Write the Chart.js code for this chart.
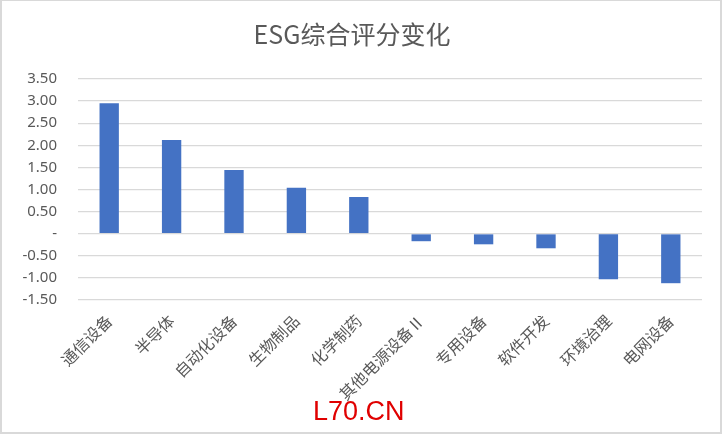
<!DOCTYPE html>
<html lang="zh">
<head>
    <meta charset="UTF-8">
    <title>ESG综合评分变化</title>
    <style>
        html, body { margin: 0; padding: 0; background: #fff; }
        .box {
            position: relative;
            width: 718px;
            height: 431px;
            border: 2px solid #d9d9d9;
            border-top-width: 1px;
        }
        .mark {
            position: absolute;
            left: 311px;
            top: 395px;
            font-family: "Liberation Sans", Arial, sans-serif;
            font-size: 27px;
            color: #e00000;
        }
    </style>
</head>
<body>

    <div class="box">
        <canvas id="myChart" width="718" height="431"></canvas>
        <div class="mark">L70.CN</div>
    </div>

    <script src="https://cdn.jsdelivr.net/npm/chart.js@4.4.1/dist/chart.umd.min.js"></script>
    <script>
        // industries, in the order shown
        var categories = ['通信设备', '半导体', '自动化设备', '生物制品', '化学制药',
            '其他电源设备Ⅱ', '专用设备', '软件开发', '环境治理', '电网设备'];
        // change of the ESG score
        var scoreChange = [2.95, 2.12, 1.44, 1.04, 0.83, -0.17, -0.24, -0.33, -1.03, -1.12];
        var yTicks = [-1.5, -1, -0.5, 0, 0.5, 1, 1.5, 2, 2.5, 3, 3.5];

        var grey = '#595959';
        var cjk = '"Noto Sans CJK SC", "Noto Sans", sans-serif';

        function createChart() {
            var ctx = document.getElementById('myChart').getContext('2d');
            new Chart(ctx, {
                type: 'bar',
                data: {
                    labels: categories,
                    datasets: [{
                        data: scoreChange,
                        backgroundColor: '#4472c4',
                        barPercentage: 0.31,
                        categoryPercentage: 1
                    }]
                },
                options: {
                    responsive: false,
                    animation: false,
                    layout: { padding: { left: 0, right: 18, top: 0, bottom: 0 } },
                    plugins: {
                        legend: { display: false },
                        tooltip: { enabled: false },
                        title: {
                            display: true,
                            text: 'ESG综合评分变化',
                            color: grey,
                            font: { family: cjk, size: 25, weight: 'normal' },
                            padding: { top: 18, bottom: 30 }
                        }
                    },
                    scales: {
                        x: {
                            grid: { display: false },
                            border: { display: false },
                            afterFit: function (scale) { scale.height = 132; },
                            ticks: {
                                color: grey,
                                font: { family: cjk, size: 16 },
                                minRotation: 45,
                                maxRotation: 45,
                                padding: 3
                            }
                        },
                        y: {
                            min: -1.5,
                            max: 3.5,
                            afterBuildTicks: function (scale) {
                                scale.ticks = yTicks.map(function (v) { return { value: v }; });
                            },
                            afterFit: function (scale) { scale.width = 76; },
                            grid: { color: '#d9d9d9', lineWidth: 1.3, drawTicks: false },
                            border: { display: false },
                            ticks: {
                                color: grey,
                                font: { family: '"Noto Sans", sans-serif', size: 15 },
                                padding: 21,
                                callback: function (v) {
                                    return v === 0 ? '-' : v.toFixed(2);
                                }
                            }
                        }
                    }
                }
            });
        }
        createChart();
    </script>

</body>
</html>
